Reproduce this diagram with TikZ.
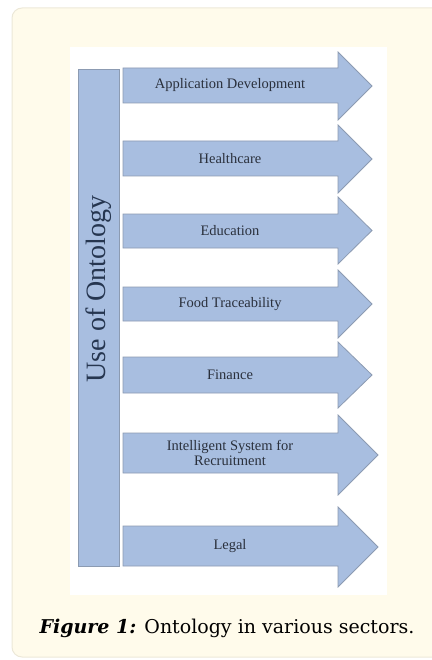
\documentclass[tikz,border=0pt]{standalone}
\usepackage{fontspec}
\setmainfont{Liberation Serif}
\newfontfamily\capfont{DejaVu Serif}
\usetikzlibrary{positioning}

\definecolor{cardbg}{HTML}{FFFBEB}
\definecolor{cardedge}{HTML}{ECE8D8}
\definecolor{secblue}{HTML}{A8BEE0}
\definecolor{secedge}{HTML}{8C9BB2}
\definecolor{barink}{HTML}{263650}
\definecolor{secink}{HTML}{2A303C}

\begin{document}
\begin{tikzpicture}[x=1pt,y=-1pt,
    sector/.style={fill=secblue,draw=secedge,line width=0.8pt},
    seclabel/.style={font=\fontsize{14.5}{18}\selectfont,text=secink,inner sep=0pt}]
   \useasboundingbox (0,0) rectangle (431,660);
   % card and picture area
   \draw[fill=cardbg,draw=cardedge,line width=1pt,rounded corners=10pt] (12,8) rectangle (445,657);
   \fill[white] (70,47) rectangle (387,595);
   % left bar
   \node[sector,minimum width=41pt,minimum height=497pt,inner sep=0pt] (onto) at (98.5,317.5) {};
   \node[rotate=90,font=\fontsize{28}{30}\selectfont,text=barink] (ontolabel) at (98.5,289) {Use of Ontology};
   % sector arrows
   \foreach \shtop/\shbot/\hdtop/\hdbot/\tip/\name/\txt in {
      68/103/52/120/372/appdev/{Application Development},
      141/176/125/193/372/health/{Healthcare},
      214/248/197/264/372/edu/{Education},
      287/321/270/338/372/food/{Food Traceability},
      357/393/342/408/372/fin/{Finance},
      433/473/415/495/378/recruit/{\shortstack{Intelligent System for\\Recruitment}},
      526/566/507/587/378/legal/{Legal}}{
     \draw[sector] (123,\shtop) -- (338,\shtop) -- (338,\hdtop) -- (\tip,{(\hdtop+\hdbot)/2})
        -- (338,\hdbot) -- (338,\shbot) -- (123,\shbot) -- cycle;
     \node[seclabel] (\name) at (230,{(\shtop+\shbot)/2}) {\txt};
   }
   % caption
   \node[anchor=base,font=\capfont\fontsize{19}{22}\selectfont] (caption) at (227,633)
      {\textbf{\textit{Figure 1:}} Ontology in various sectors.};
\end{tikzpicture}
\end{document}
